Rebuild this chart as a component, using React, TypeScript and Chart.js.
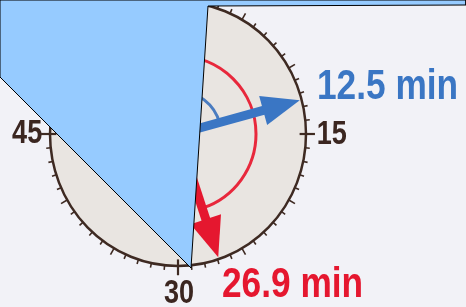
import React, { useEffect, useRef } from "react";
import { Chart, registerables } from "chart.js";

Chart.register(...registerables);

// ---- data ----
const clockLabels = ["15", "30", "45"];
const clockLabelMinutes = [15, 30, 45];
const timeValues = [12.5, 26.9];
const timeLabels = ["12.5 min", "26.9 min"];
const timeColors = ["#3a76c4", "#e5172f"];
const arcColors = ["#4a7cc0", "#e8283c"];
const maskX = [0, 466, 466, 208, 191, 0, 0];
const maskY = [0, 0, 5, 6, 268, 77, 0];

// ---- layout constants (chart units) ----
const CX = 178;
const CY = 134;
const RX = 128;
const RY = 132;
const FONT = "'Liberation Sans', Arial, sans-serif";
const SQUEEZE = 0.82;

function narrowText(ctx: CanvasRenderingContext2D, text: string, x: number, y: number) {
  ctx.save();
  ctx.translate(x, y);
  ctx.scale(SQUEEZE, 1);
  ctx.fillText(text, 0, 0);
  ctx.restore();
}

const clockPlugin = {
  id: "clockFace",
  beforeDraw(chart: any) {
    const ctx = chart.ctx;
    ctx.save();
    ctx.fillStyle = "#f2f2f7";
    ctx.fillRect(0, 0, chart.width, chart.height);
    ctx.restore();
  },
  beforeDatasetsDraw(chart: any) {
    const ctx = chart.ctx;
    const xs = chart.scales.x;
    const ys = chart.scales.y;
    const px = (v: number) => xs.getPixelForValue(v);
    const py = (v: number) => ys.getPixelForValue(v);
    const pt = (min: number, f: number) => {
      const a = (min / 60) * Math.PI * 2;
      return [px(CX + RX * f * Math.sin(a)), py(CY - RY * f * Math.cos(a))];
    };
    const cx = px(CX), cy = py(CY);
    const rx = Math.abs(px(CX + RX) - cx), ry = Math.abs(py(CY + RY) - cy);
    ctx.save();
    // face
    ctx.beginPath();
    ctx.ellipse(cx, cy, rx, ry, 0, 0, Math.PI * 2);
    ctx.fillStyle = "#e9e5e1";
    ctx.fill();
    ctx.lineWidth = 2.5;
    ctx.strokeStyle = "#3e2a22";
    ctx.stroke();
    // ticks
    for (let m = 0; m < 60; m++) {
      const major = m % 15 === 0;
      const five = m % 5 === 0;
      const inner = major ? 0.95 : 1.0;
      const outer = major ? 1.07 : five ? 1.055 : 1.035;
      const [x1, y1] = pt(m, inner);
      const [x2, y2] = pt(m, outer);
      ctx.beginPath();
      ctx.moveTo(x1, y1);
      ctx.lineTo(x2, y2);
      ctx.lineWidth = major ? 2.2 : 1.6;
      ctx.strokeStyle = "#3e2a22";
      ctx.stroke();
    }
    // angle arcs
    const arcR = [43, 78];
    timeValues.forEach((t, i) => {
      const end = (t / 60) * Math.PI * 2 - Math.PI / 2;
      ctx.beginPath();
      ctx.ellipse(cx, cy, arcR[i], arcR[i], 0, -Math.PI / 2, end);
      ctx.lineWidth = 3;
      ctx.strokeStyle = arcColors[i];
      ctx.stroke();
    });
    // arrows
    const headLen = [38, 40];
    const headHalf = [15, 16];
    timeValues.forEach((t, i) => {
      const [tx, ty] = pt(t, 0.985);
      const a = Math.atan2(ty - cy, tx - cx);
      const bx = tx - headLen[i] * Math.cos(a);
      const by = ty - headLen[i] * Math.sin(a);
      ctx.beginPath();
      ctx.moveTo(cx, cy);
      ctx.lineTo(bx + 2 * Math.cos(a), by + 2 * Math.sin(a));
      ctx.lineWidth = 9;
      ctx.strokeStyle = timeColors[i];
      ctx.stroke();
      ctx.beginPath();
      ctx.moveTo(tx, ty);
      ctx.lineTo(bx + headHalf[i] * Math.sin(a), by - headHalf[i] * Math.cos(a));
      ctx.lineTo(bx - headHalf[i] * Math.sin(a), by + headHalf[i] * Math.cos(a));
      ctx.closePath();
      ctx.fillStyle = timeColors[i];
      ctx.fill();
    });
    // clock labels
    ctx.fillStyle = "#3b2620";
    ctx.font = `bold 33px ${FONT}`;
    clockLabels.forEach((lab, i) => {
      const m = clockLabelMinutes[i];
      const [x, y] = pt(m, 1.1);
      if (m === 15) { ctx.textAlign = "left"; ctx.textBaseline = "middle"; narrowText(ctx, lab, x - 2, y + 1); }
      else if (m === 45) { ctx.textAlign = "right"; ctx.textBaseline = "middle"; narrowText(ctx, lab, x + 5, y); }
      else { ctx.textAlign = "center"; ctx.textBaseline = "top"; narrowText(ctx, lab, x + 1, y - 2); }
    });
    // value labels
    ctx.font = `bold 43px ${FONT}`;
    ctx.textAlign = "left";
    ctx.textBaseline = "alphabetic";
    const labPos = [[px(317), py(99)], [px(222), py(297)]];
    timeLabels.forEach((lab, i) => {
      ctx.fillStyle = timeColors[i];
      narrowText(ctx, lab, labPos[i][0], labPos[i][1]);
    });
    ctx.restore();
  },
};

export default function App() {
  const ref = useRef<HTMLCanvasElement>(null);
  useEffect(() => {
    document.body.style.margin = "0";
    const chart = new Chart(ref.current!, {
      type: "scatter",
      data: {
        datasets: [
          {
            type: "line",
            data: maskX.map((x, i) => ({ x, y: maskY[i] })),
            showLine: true,
            fill: "shape" as any,
            backgroundColor: "rgb(150,203,255)",
            borderColor: "#000",
            borderWidth: 1,
            pointRadius: 0,
            tension: 0,
          } as any,
        ],
      },
      options: {
        animation: false,
        responsive: false,
        maintainAspectRatio: false,
        layout: { padding: 0 },
        plugins: { legend: { display: false }, tooltip: { enabled: false } },
        scales: {
          x: { type: "linear", min: 0, max: 466, display: false },
          y: { type: "linear", min: 0, max: 307, reverse: true, display: false },
        },
      },
      plugins: [clockPlugin],
    });
    return () => chart.destroy();
  }, []);
  return (
    <div style={{ position: "absolute", left: 0, top: 0, width: 466, height: 307 }}>
      <canvas ref={ref} width={466} height={307} style={{ display: "block" }} />
    </div>
  );
}
